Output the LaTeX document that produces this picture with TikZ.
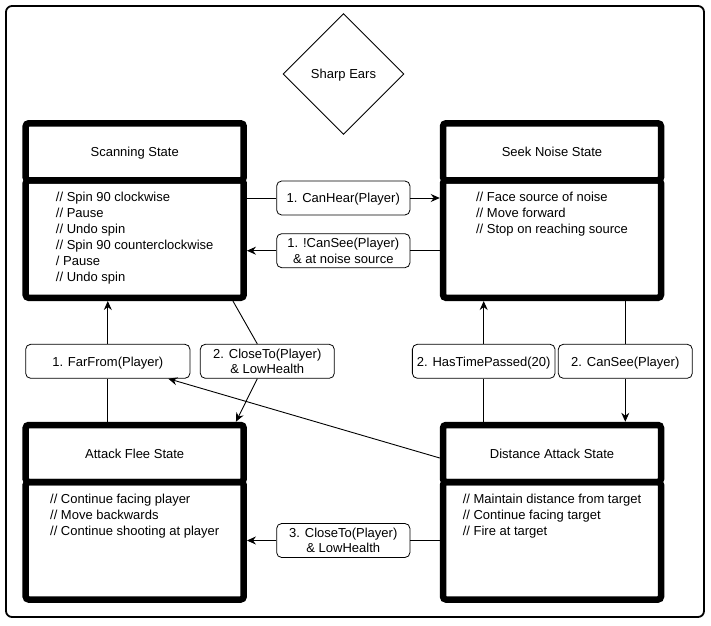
\documentclass[tikz,border=0pt]{standalone}
\usepackage{fontspec}
\setmainfont{Liberation Sans}
\usetikzlibrary{arrows.meta,shapes.geometric,calc}

\begin{document}
\begin{tikzpicture}[x=1pt,y=1pt,
  font=\fontsize{13}{16}\selectfont,
  statebox/.style={draw, line width=6.5pt, rounded corners=3pt, minimum width=218pt, inner sep=0pt},
  headbox/.style={statebox, minimum height=57pt, text height=9.4pt, text depth=0pt},
  bodybox/.style={statebox, minimum height=117.5pt},
  bodytext/.style={anchor=north, align=left, inner sep=0pt, yshift=-15pt},
  cond/.style={draw, line width=0.8pt, rounded corners=5pt, fill=white, align=center,
    inner sep=0pt, minimum height=34pt, font=\fontsize{13}{15.5}\selectfont},
  oneline/.style={cond, text height=9.4pt, text depth=0pt},
  link/.style={line width=0.9pt},
  arrow/.style={link, -{Stealth[length=9pt,width=8pt,inset=3pt]}}
]
\useasboundingbox (0,0) rectangle (711,625);

% outer frame
\draw[line width=1.8pt, rounded corners=6pt] (6,619) rectangle (704,8);

% decorator
\node[diamond, draw, line width=0.9pt, aspect=1, inner sep=0pt,
      minimum width=121pt, minimum height=121pt, text height=9.4pt, text depth=0pt]
      (ears) at (343.5,551) {Sharp Ears};

% states: header and body
\node[headbox] (scanH) at (134.7,473.2) {Scanning State};
\node[bodybox] (scanB) at (134.7,385.95) {};
\node[bodytext] (scanT) at (scanB.north) {// Spin 90 clockwise\\// Pause\\// Undo spin\\// Spin 90 counterclockwise\\/ Pause\\// Undo spin};

\node[headbox] (seekH) at (552,473.2) {Seek Noise State};
\node[bodybox] (seekB) at (552,385.95) {};
\node[bodytext] (seekT) at (seekB.north) {// Face source of noise\\// Move forward\\// Stop on reaching source};

\node[headbox] (fleeH) at (134.7,171.5) {Attack Flee State};
\node[bodybox] (fleeB) at (134.7,84.25) {};
\node[bodytext] (fleeT) at (fleeB.north) {// Continue facing player\\// Move backwards\\// Continue shooting at player};

\node[headbox] (distH) at (552,171.5) {Distance Attack State};
\node[bodybox] (distB) at (552,84.25) {};
\node[bodytext] (distT) at (distB.north) {// Maintain distance from target\\// Continue facing target\\// Fire at target};

% transition conditions
\node[oneline, minimum width=133.3pt] (hear) at (343.3,427) {1. CanHear(Player)};
\node[cond, minimum width=133.3pt] (nosee) at (343.3,374.3) {1. !CanSee(Player)\\\& at noise source};
\node[oneline, minimum width=164.3pt] (farfrom) at (107.8,263.7) {1. FarFrom(Player)};
\node[cond, minimum width=134pt] (close2) at (267.3,263.7) {2. CloseTo(Player)\\\& LowHealth};
\node[oneline, minimum width=142.7pt] (hastime) at (483.7,263.7) {2. HasTimePassed(20)};
\node[oneline, minimum width=134pt] (cansee) at (625.3,263.7) {2. CanSee(Player)};
\node[cond, minimum width=133.3pt] (close3) at (343.3,84.5) {3. CloseTo(Player)\\\& LowHealth};

% transitions
\draw[link] (scanB.east |- hear.west) -- (hear.west);
\draw[arrow] (hear.east) -- (seekB.west |- hear.east);

\draw[link] (seekB.west |- nosee.east) -- (nosee.east);
\draw[arrow] (nosee.west) -- (scanB.east |- nosee.west);

\draw[link] (fleeH.north -| farfrom.south) -- (farfrom.south);
\draw[arrow] (farfrom.north) -- (scanB.south -| farfrom.north);

\coordinate (c2top) at ($(close2.north)+(-10,0)$);
\coordinate (c2bot) at ($(close2.south)+(-10,0)$);
\draw[link] ($(scanB.south east)+(-14,0)$) -- (c2top);
\draw[arrow] (c2bot) -- ($(fleeH.north east)+(-11,0)$);

\draw[arrow] ($(distH.west)+(0,-4.5)$) -- ($(farfrom.south)+(60.5,0)$);

\draw[link] (distH.north -| hastime.south) -- (hastime.south);
\draw[arrow] (hastime.north) -- (seekB.south -| hastime.north);

\draw[link] (seekB.south -| cansee.north) -- (cansee.north);
\draw[arrow] (cansee.south) -- (distH.north -| cansee.south);

\draw[link] (distB.west |- close3.east) -- (close3.east);
\draw[arrow] (close3.west) -- (fleeB.east |- close3.west);
\end{tikzpicture}
\end{document}
